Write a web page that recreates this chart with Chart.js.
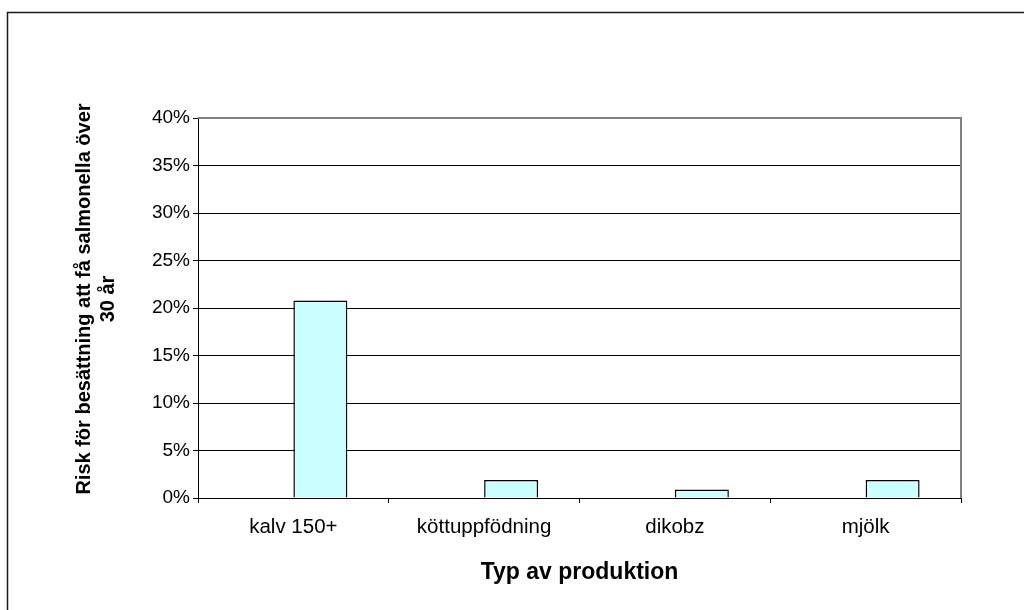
<!DOCTYPE html>
<html>
<head>
<meta charset="utf-8">
<script src="https://cdn.jsdelivr.net/npm/chart.js@4/dist/chart.umd.min.js"></script>
<style>
  html, body { margin: 0; padding: 0; background: #fff; }
  canvas { display: block; }
</style>
</head>
<body>
<canvas id="c" width="1024" height="610"></canvas>
<script>
// Production types and the 30-year salmonella risk per type (percent)
const categories = ['kalv 150+', 'köttuppfödning', 'dikobz', 'mjölk'];
const emptySeries = [null, null, null, null];
const riskValues = [20.8, 1.9, 0.9, 1.9];
const yTickValues = [0, 5, 10, 15, 20, 25, 30, 35, 40];
const xTitle = 'Typ av produktion';
const yTitle = ['Risk för besättning att få salmonella över', '30 år'];

const FONT = '"Liberation Sans", Arial, sans-serif';

// Outer frame, grey plot-area border on top/right, and the rotated y-axis title
const framePlugin = {
  id: 'frame',
  beforeDraw(chart) {
    const ctx = chart.ctx;
    ctx.save();
    ctx.fillStyle = '#fff';
    ctx.fillRect(0, 0, chart.width, chart.height);
    ctx.strokeStyle = '#1a1a1a';
    ctx.lineWidth = 1.5;
    ctx.strokeRect(7.5, 12.5, chart.width + 20, chart.height + 20);
    ctx.restore();
  },
  afterDatasetsDraw(chart) {
    const { ctx, chartArea } = chart;
    ctx.save();
    ctx.strokeStyle = '#808080';
    ctx.lineWidth = 2;
    ctx.beginPath();
    ctx.moveTo(chartArea.left, chartArea.top);
    ctx.lineTo(chartArea.right, chartArea.top);
    ctx.lineTo(chartArea.right, chartArea.bottom);
    ctx.stroke();
    ctx.restore();
  },
  afterDraw(chart) {
    const ctx = chart.ctx;
    const centerY = 299;
    const firstX = 84;
    const lineGap = 24;
    ctx.save();
    ctx.fillStyle = '#000';
    ctx.font = 'bold 20px ' + FONT;
    ctx.textAlign = 'center';
    ctx.textBaseline = 'middle';
    yTitle.forEach((line, i) => {
      ctx.save();
      ctx.translate(firstX + i * lineGap, centerY);
      ctx.rotate(-Math.PI / 2);
      ctx.fillText(line, 0, 0);
      ctx.restore();
    });
    ctx.restore();
  }
};

new Chart(document.getElementById('c'), {
  type: 'bar',
  data: {
    labels: categories,
    datasets: [
      {
        label: 'Serie 1',
        data: emptySeries,
        backgroundColor: '#CCFFFF',
        borderColor: '#000',
        borderWidth: 1.5
      },
      {
        label: 'Risk',
        data: riskValues,
        backgroundColor: '#CCFFFF',
        borderColor: '#000',
        borderWidth: 1.5
      }
    ]
  },
  options: {
    responsive: false,
    animation: false,
    devicePixelRatio: 1,
    layout: { padding: { top: 118, right: 63, bottom: 0, left: 0 } },
    plugins: {
      legend: { display: false },
      tooltip: { enabled: false }
    },
    datasets: {
      bar: { categoryPercentage: 0.566, barPercentage: 1.0 }
    },
    scales: {
      x: {
        offset: true,
        grid: {
          offset: true,
          drawOnChartArea: false,
          drawTicks: true,
          tickLength: 5,
          color: '#000'
        },
        border: { color: '#000', width: 1 },
        ticks: {
          color: '#000',
          font: { family: FONT, size: 20.5 },
          padding: 12,
          maxRotation: 0
        },
        title: {
          display: true,
          text: xTitle,
          color: '#000',
          font: { family: FONT, size: 23, weight: 'bold', lineHeight: 1.2 },
          padding: { top: 0, bottom: 24 }
        },
        afterFit(scale) { scale.height = 112; }
      },
      y: {
        min: 0,
        max: 40,
        afterBuildTicks(scale) {
          scale.ticks = yTickValues.map(v => ({ value: v }));
        },
        grid: {
          color: '#000',
          lineWidth: 1,
          tickLength: 5
        },
        border: { color: '#000', width: 1 },
        ticks: {
          color: '#000',
          font: { family: FONT, size: 19 },
          padding: 3,
          callback: v => v + '%'
        },
        title: { display: false },
        afterFit(scale) { scale.width = 198; }
      }
    }
  },
  plugins: [framePlugin]
});
</script>
</body>
</html>
